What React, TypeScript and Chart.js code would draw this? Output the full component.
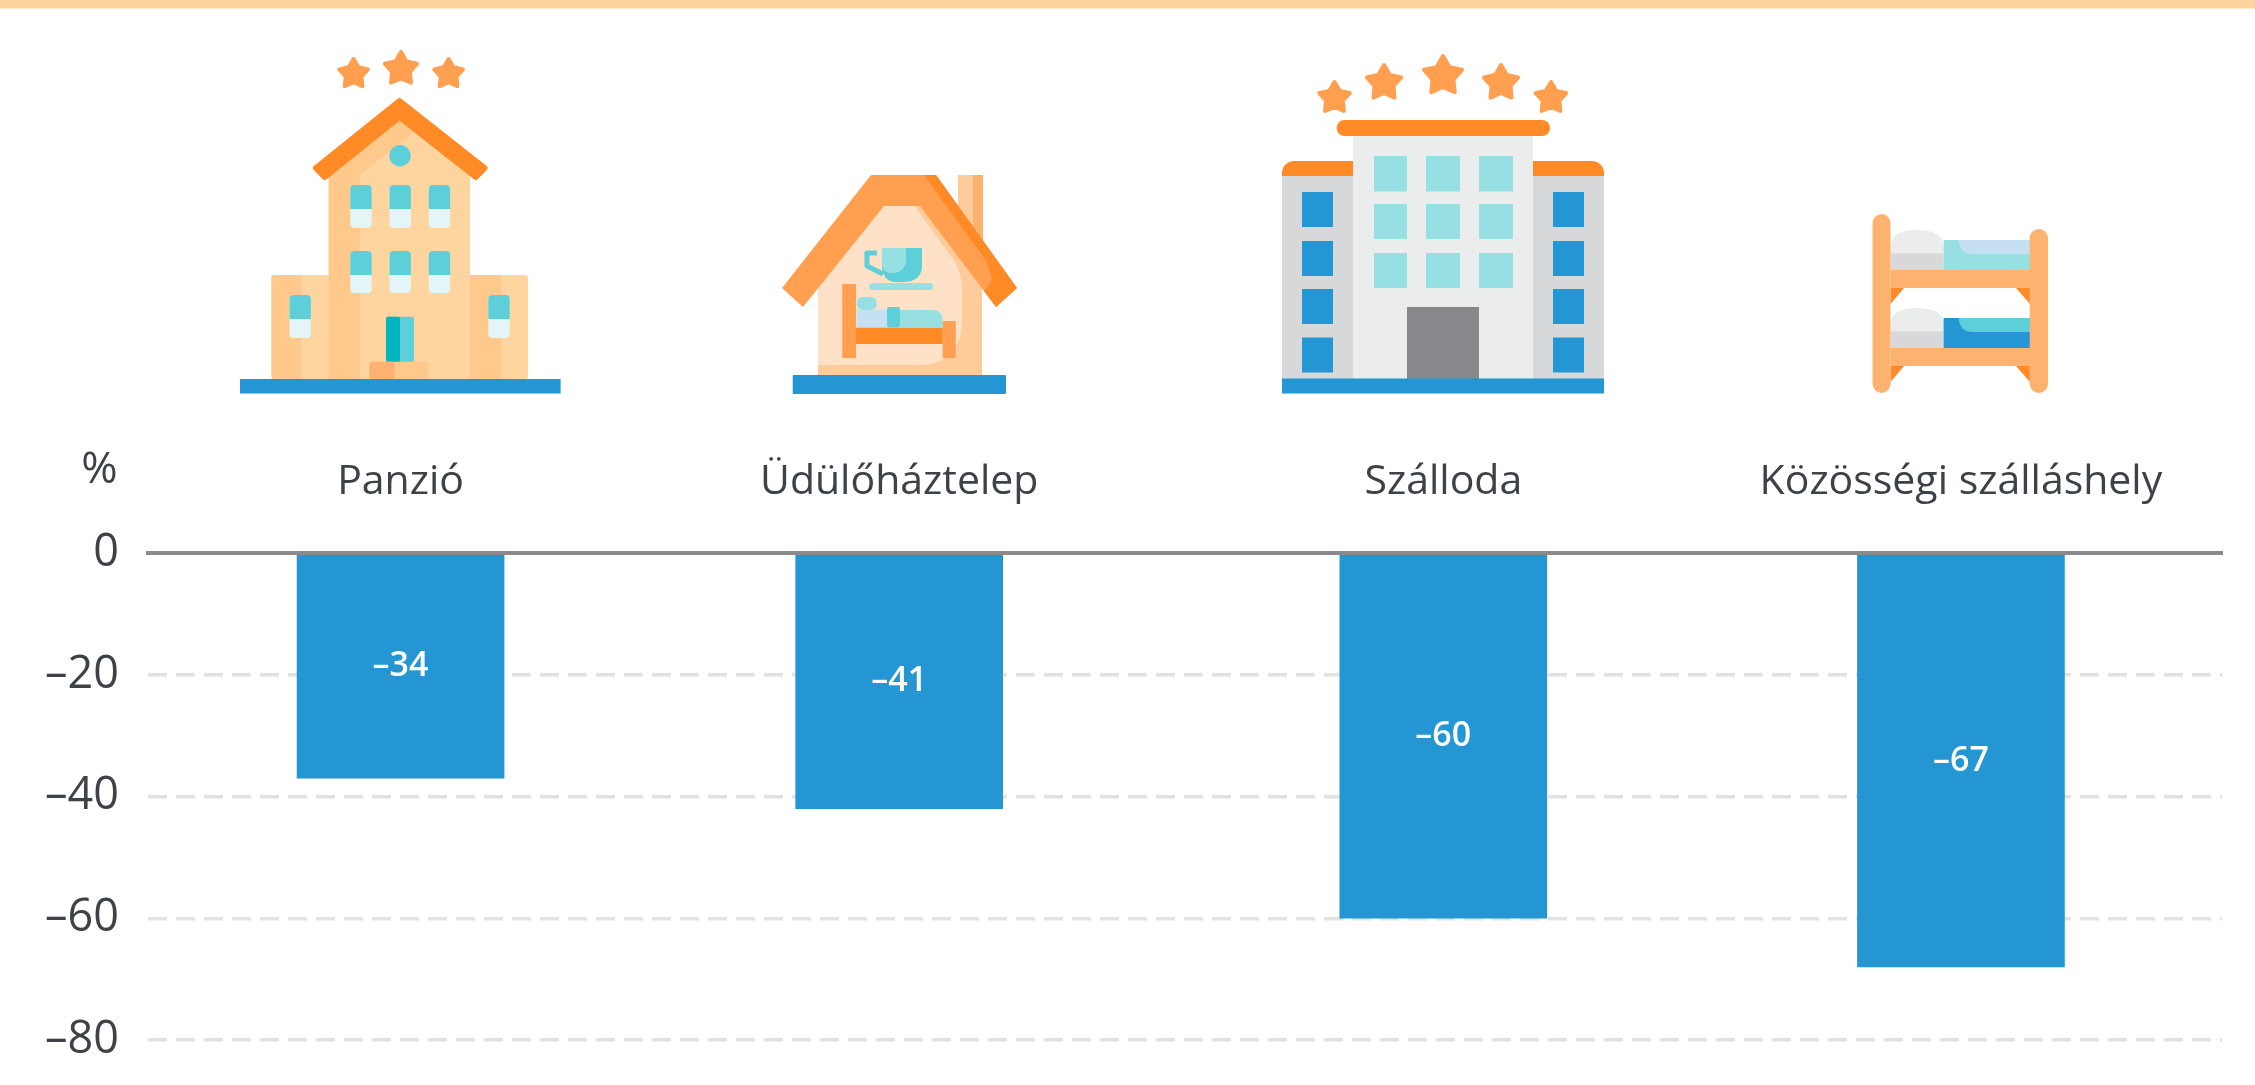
import React, { useEffect, useRef } from "react";
import { Chart, registerables } from "chart.js";

Chart.register(...registerables);

// ---- data ----
const categories = ["Panzió", "Üdülőháztelep", "Szálloda", "Közösségi szálláshely"];
// the categories are unevenly spaced in the original
const categorySlots = [0, 99.7, 208.5, 312];
const barValues = [-37, -42, -60, -68];
const barLabels = ["–34", "–41", "–60", "–67"];
const yTickValues = [0, -20, -40, -60, -80];
const unitLabel = "%";

const FONT = '"Open Sans", sans-serif';
const BLUE = "#2496d4";
const ORANGE = "#ff8a26";
const ORANGE2 = "#ff9f4f";
const PEACH = "#fec98a";
const PEACH2 = "#fed49f";
const APRICOT = "#feb26f";
const TEAL = "#5ccfd9";
const AQUA = "#96e0e3";
const PALE = "#e4f5f7";
const GREY = "#d7d8da";
const LGREY = "#ebedec";
const SKY = "#c5e0f2";

const valueLabelPlugin = {
  id: "valueLabels",
  afterDatasetsDraw(chart: any) {
    const { ctx } = chart;
    const meta = chart.getDatasetMeta(0);
    ctx.save();
    ctx.font = `600 34px ${FONT}`;
    ctx.fillStyle = "#ffffff";
    ctx.textAlign = "center";
    ctx.textBaseline = "middle";
    meta.data.forEach((bar: any, i: number) => {
      ctx.fillText(barLabels[i], bar.x, (bar.y + bar.base) / 2);
    });
    ctx.font = `400 44px ${FONT}`;
    ctx.fillStyle = "#3d4248";
    ctx.fillText(unitLabel, 99.5, 470);
    ctx.restore();
  },
};

function starPoints(cx: number, cy: number, r: number) {
  const pts: string[] = [];
  for (let i = 0; i < 10; i++) {
    const rad = i % 2 === 0 ? r : r * 0.55;
    const a = -Math.PI / 2 + (i * Math.PI) / 5;
    pts.push(`${cx + rad * Math.cos(a)},${cy + rad * Math.sin(a)}`);
  }
  return pts.join(" ");
}

const Star = ({ x, y, r }: { x: number; y: number; r: number }) => (
  <polygon points={starPoints(x, y, r - 2)} fill={ORANGE2} stroke={ORANGE2} strokeWidth={4} strokeLinejoin="round" />
);

const R = ({ x, y, x2, y2, f, rx }: { x: number; y: number; x2: number; y2: number; f: string; rx?: number }) => (
  <rect x={x} y={y} width={x2 - x} height={y2 - y} fill={f} rx={rx} />
);

const Win = ({ x, y, y2, split }: { x: number; y: number; y2: number; split: number }) => (
  <g>
    <R x={x - 10.7} y={y} x2={x + 10.7} y2={y2} f={PALE} rx={4} />
    <path
      d={`M${x - 10.7},${split} V${y + 4} Q${x - 10.7},${y} ${x - 6.7},${y} H${x + 6.7} Q${x + 10.7},${y} ${x + 10.7},${y + 4} V${split} Z`}
      fill={TEAL}
    />
  </g>
);

function Icons() {
  return (
    <svg width={2255} height={1085} style={{ position: "absolute", left: 0, top: 0, pointerEvents: "none" }}>
      <rect x={0} y={0} width={2255} height={8.5} fill="#fdd49e" />

      {/* Panzió */}
      <g>
        <Star x={353.6} y={74} r={17} />
        <Star x={401} y={69} r={19} />
        <Star x={448.6} y={74} r={17} />
        <R x={271.5} y={275} x2={528} y2={379} f={PEACH2} rx={3} />
        <R x={271.5} y={275} x2={301.4} y2={379} f={PEACH} rx={3} />
        <R x={470} y={275} x2={501} y2={379} f={PEACH} />
        <polygon points="328.7,175 399.5,110 470,175 470,379 328.7,379" fill={PEACH2} />
        <polygon points="328.7,175 399.5,110 412.7,133 359.6,175 359.6,379 328.7,379" fill={PEACH} />
        <polygon
          points="316,168 399.5,101 484.5,168 475.8,177 399.5,117 324.7,177"
          fill={ORANGE}
          stroke={ORANGE}
          strokeWidth={6}
          strokeLinejoin="round"
        />
        <circle cx={400} cy={155.7} r={10.7} fill={TEAL} />
        {[361, 400.2, 439.5].map((x) => (
          <Win key={`a${x}`} x={x} y={185} y2={228} split={209} />
        ))}
        {[361, 400.2, 439.5].map((x) => (
          <Win key={`b${x}`} x={x} y={251} y2={293} split={275} />
        ))}
        <Win x={300.2} y={295} y2={338} split={319} />
        <Win x={499} y={295} y2={338} split={319} />
        <R x={386} y={316.7} x2={414} y2={362} f={TEAL} rx={2} />
        <R x={386} y={316.7} x2={400} y2={362} f="#00b5c0" rx={2} />
        <R x={369.5} y={361.7} x2={428} y2={379} f={PEACH} rx={2} />
        <R x={369.5} y={361.7} x2={394.5} y2={379} f={APRICOT} rx={2} />
        <R x={240} y={379} x2={560.6} y2={393.5} f={BLUE} />
      </g>

      {/* Üdülőháztelep */}
      <g>
        <R x={958} y={175} x2={983} y2={240} f="#fecb9b" />
        <R x={973} y={175} x2={983} y2={240} f={APRICOT} />
        <polygon points="818,280 884,200 920,200 982,290 982,375 818,375" fill="#ffe1c8" />
        <path
          d="M913,204 H926 L982,285 V375 H818 V365 H923 Q962,362 962,320 V285 Q960,268 952,258 Z"
          fill="#fecb9b"
        />
        <polygon points="871,175 936,175 1017,288 996,307 920,206 884,206 803,307 782,288" fill={ORANGE2} />
        <polygon points="924,175 936,175 1017,288 996,307 984,291 992,280 987,262" fill={ORANGE} />
        <path d="M877,253 H867 V266 L883,274" fill="none" stroke={TEAL} strokeWidth={5} strokeLinejoin="round" />
        <path d="M882,250 Q882,248 885,248 H922 V268 Q920,282 903,282 H894 Q882,280 882,265 Z" fill={TEAL} />
        <path d="M882,250 Q882,248 885,248 H906 V262 Q904,272 894,273 H888 Q882,270 882,262 Z" fill={AQUA} />
        <R x={869} y={283} x2={933} y2={290} f={AQUA} rx={3.5} />
        <R x={842.3} y={284} x2={856} y2={358} f={ORANGE2} />
        <R x={942.7} y={321} x2={955.7} y2={358} f={ORANGE2} />
        <R x={856.7} y={297} x2={877} y2={310} f={AQUA} rx={6} />
        <R x={856.7} y={310} x2={887} y2={327.5} f={SKY} />
        <path d="M900,310 H933 Q942.7,310 942.7,321 V327.5 H900 Z" fill={AQUA} />
        <R x={887} y={307} x2={900} y2={327.5} f={TEAL} rx={2} />
        <R x={856} y={327.7} x2={942.7} y2={344} f={ORANGE} />
        <R x={792.7} y={375} x2={1006} y2={394} f={BLUE} rx={1} />
      </g>

      {/* Szálloda */}
      <g>
        {[1334.5, 1551].map((x) => (
          <Star key={x} x={x} y={98} r={18} />
        ))}
        {[1384, 1501].map((x) => (
          <Star key={x} x={x} y={83} r={20} />
        ))}
        <Star x={1443} y={76} r={22} />
        <R x={1282} y={161} x2={1604} y2={200} f={ORANGE} rx={12} />
        <R x={1282} y={176} x2={1353} y2={379} f={GREY} />
        <R x={1533} y={176} x2={1604} y2={379} f={GREY} />
        <R x={1353} y={130} x2={1533} y2={379} f={LGREY} />
        <R x={1336.6} y={120} x2={1550} y2={136} f={ORANGE} rx={8} />
        {[[156, 191.5], [204, 239], [253, 288]].map(([a, b]) =>
          [[1374, 1407], [1426, 1460], [1479, 1513]].map(([c, d]) => (
            <R key={`${a}${c}`} x={c} y={a} x2={d} y2={b} f={AQUA} />
          ))
        )}
        {[[192, 227], [241, 276], [289, 324], [337.5, 372.5]].map(([a, b]) =>
          [[1302, 1333], [1553, 1584]].map(([c, d]) => (
            <R key={`${a}${c}`} x={c} y={a} x2={d} y2={b} f={BLUE} />
          ))
        )}
        <R x={1407} y={307} x2={1479} y2={379} f="#87888c" />
        <R x={1282} y={378.5} x2={1604} y2={393.5} f={BLUE} />
      </g>

      {/* Közösségi szálláshely */}
      <g>
        {[0, 78].map((d) => (
          <g key={d}>
            <path
              d={`M1890.5,${254 + d} V${245 + d} Q1892,${230 + d} 1917,${230 + d} Q1942,${230 + d} 1943.6,${245 + d} V${254 + d} Z`}
              fill={LGREY}
            />
            <R x={1890.5} y={253.5 + d} x2={1943.6} y2={270 + d} f={GREY} />
            <R x={1943.6} y={240 + d} x2={2030} y2={270 + d} f={d ? BLUE : AQUA} />
            <path
              d={`M1958.6,${240 + d} H2030 V${254 + d} H1972 Q1960,${254 + d} 1958.6,${240 + d} Z`}
              fill={d ? TEAL : SKY}
            />
            <R x={1890.5} y={270 + d} x2={2030} y2={288 + d} f={APRICOT} />
            <polygon points={`1890.5,${288 + d} 1904,${288 + d} 1890.5,${304 + d}`} fill={ORANGE} />
            <polygon points={`2030,${288 + d} 2016,${288 + d} 2030,${304 + d}`} fill={ORANGE} />
          </g>
        ))}
        <R x={1872.6} y={214} x2={1890.5} y2={393} f={APRICOT} rx={9} />
        <R x={2029.7} y={229} x2={2048} y2={393} f={APRICOT} rx={9} />
      </g>
    </svg>
  );
}

export default function App() {
  const ref = useRef<HTMLCanvasElement | null>(null);

  useEffect(() => {
    if (!ref.current) return;
    const chart = new Chart(ref.current, {
      type: "bar",
      data: {
        datasets: [
          {
            data: categorySlots.map((x, i) => ({ x, y: barValues[i] })),
            backgroundColor: BLUE,
            barThickness: 207,
          },
        ],
      },
      plugins: [valueLabelPlugin],
      options: {
        animation: false,
        responsive: false,
        layout: { padding: { left: 0, top: 0, right: 33, bottom: 45 } },
        plugins: { legend: { display: false }, tooltip: { enabled: false } },
        scales: {
          x: {
            type: "linear",
            position: "top",
            offset: false,
            min: -50.5,
            max: 364.2,
            grid: { display: false, drawTicks: false },
            border: { display: true, color: "#8a8a8c", width: 4, z: 2 },
            afterFit: (s: any) => {
              s.height = 553;
            },
            afterBuildTicks: (s: any) => {
              s.ticks = categorySlots.map((value) => ({ value }));
            },
            ticks: {
              autoSkip: false,
              maxRotation: 0,
              padding: 46,
              color: "#3d4248",
              font: { family: FONT, size: 41 },
              callback: (v: any) => categories[categorySlots.indexOf(v)] ?? "",
            },
          },
          y: {
            type: "linear",
            min: -80,
            max: 0,
            afterFit: (s: any) => {
              s.width = 148;
              s.paddingTop = 0;
              s.paddingBottom = 0;
            },
            afterBuildTicks: (s: any) => {
              s.ticks = yTickValues.map((value) => ({ value }));
            },
            grid: {
              drawTicks: false,
              lineWidth: 3.5,
              color: (c: any) => (c.tick && c.tick.value === 0 ? "rgba(0,0,0,0)" : "#e2e2e2"),
            },
            border: { display: false, dash: [19, 9] },
            ticks: {
              padding: 29,
              color: "#3d4248",
              font: { family: FONT, size: 45 },
              callback: (v: any) => String(v).replace("-", "–"),
            },
          },
        },
      },
    } as any);
    return () => chart.destroy();
  }, []);

  return (
    <div style={{ position: "absolute", left: 0, top: 0, width: 2255, height: 1085, overflow: "hidden", background: "#fff" }}>
      <canvas ref={ref} width={2255} height={1085} style={{ display: "block", width: 2255, height: 1085 }} />
      <Icons />
    </div>
  );
}
